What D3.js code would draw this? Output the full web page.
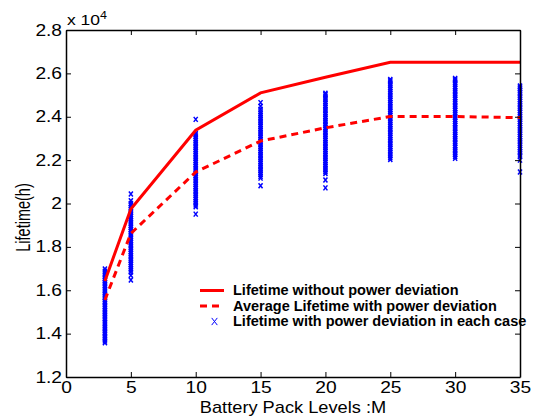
<!DOCTYPE html>
<html>
<head>
<meta charset="utf-8">
<script src="https://cdn.jsdelivr.net/npm/d3@7"></script>
<style>
  body { margin: 0; background: #fff; }
  text { font-family: "Liberation Sans", Arial, sans-serif; }
</style>
</head>
<body>
<script>
// battery pack levels M and lifetimes (x 10^4 h)
var levels = [3, 5, 10, 15, 20, 25, 30, 35]
var lifeNoDev = [1.643, 1.975, 2.338, 2.510, 2.582, 2.651, 2.651, 2.651]
var lifeAvgDev = [1.555, 1.862, 2.145, 2.288, 2.349, 2.401, 2.401, 2.396]

// lifetime of each case with power deviation, per level
var caseM3 = [1.358,1.366,1.374,1.381,1.389,1.398,1.405,1.413,1.421,1.428,1.437,1.445,1.452,1.461,1.469,1.476,1.484,1.493,1.500,1.508,1.517,1.524,1.532,1.541,1.548,1.556,1.565,1.573,1.580,1.589,1.597,1.604,1.612,1.621,1.629,1.636,1.645,1.653,1.661,1.670,1.679,1.688,1.698]
var caseM5 = [1.647,1.669,1.684,1.693,1.701,1.710,1.719,1.727,1.736,1.744,1.753,1.761,1.770,1.778,1.787,1.795,1.804,1.812,1.821,1.829,1.838,1.846,1.855,1.863,1.872,1.880,1.889,1.897,1.906,1.914,1.923,1.931,1.940,1.948,1.957,1.965,1.974,1.982,1.991,2.000,2.013,2.044]
var caseM10 = [1.951,1.985,1.993,2.002,2.010,2.019,2.027,2.036,2.044,2.053,2.061,2.070,2.078,2.087,2.095,2.104,2.112,2.121,2.129,2.138,2.146,2.155,2.163,2.172,2.180,2.189,2.197,2.206,2.214,2.223,2.231,2.240,2.248,2.257,2.265,2.274,2.282,2.291,2.299,2.308,2.316,2.323,2.388]
var caseM15 = [2.082,2.117,2.125,2.134,2.142,2.151,2.159,2.168,2.176,2.185,2.193,2.202,2.210,2.219,2.227,2.236,2.244,2.253,2.261,2.270,2.278,2.287,2.295,2.304,2.312,2.321,2.329,2.338,2.346,2.355,2.363,2.372,2.380,2.389,2.397,2.406,2.414,2.423,2.435,2.448,2.465]
var caseM20 = [2.072,2.108,2.138,2.146,2.155,2.163,2.172,2.180,2.189,2.197,2.206,2.214,2.223,2.231,2.240,2.248,2.257,2.265,2.274,2.282,2.291,2.299,2.308,2.316,2.325,2.333,2.342,2.350,2.359,2.367,2.376,2.384,2.393,2.401,2.410,2.418,2.427,2.435,2.444,2.452,2.461,2.469,2.478,2.486,2.495,2.503,2.508]
var caseM25 = [2.203,2.211,2.220,2.228,2.237,2.245,2.254,2.262,2.271,2.279,2.288,2.296,2.305,2.313,2.322,2.330,2.339,2.347,2.356,2.364,2.373,2.381,2.390,2.398,2.407,2.415,2.424,2.432,2.441,2.449,2.458,2.466,2.475,2.483,2.492,2.500,2.509,2.517,2.526,2.534,2.543,2.551,2.560,2.566,2.572]
var caseM30 = [2.208,2.216,2.225,2.233,2.242,2.250,2.259,2.267,2.276,2.284,2.293,2.301,2.310,2.318,2.327,2.335,2.344,2.352,2.361,2.369,2.378,2.386,2.395,2.403,2.412,2.420,2.429,2.437,2.446,2.454,2.463,2.471,2.480,2.488,2.497,2.505,2.514,2.522,2.531,2.539,2.548,2.556,2.565,2.571,2.577]
var caseM35 = [2.145,2.200,2.216,2.224,2.233,2.241,2.250,2.258,2.267,2.275,2.284,2.292,2.301,2.309,2.318,2.326,2.335,2.343,2.352,2.360,2.369,2.377,2.386,2.394,2.403,2.411,2.420,2.428,2.437,2.445,2.454,2.462,2.471,2.479,2.488,2.496,2.505,2.513,2.522,2.530,2.537,2.542]

var xTicks = [0, 5, 10, 15, 20, 25, 30, 35]
var yTicks = [1.2, 1.4, 1.6, 1.8, 2, 2.2, 2.4, 2.6, 2.8]
var yTickLabels = ["1.2", "1.4", "1.6", "1.8", "2", "2.2", "2.4", "2.6", "2.8"]
var legendLabels = ["Lifetime without power deviation", "Average Lifetime with power deviation", "Lifetime with power deviation in each case"]

var width = 536, height = 418
var plotL = 66, plotR = 520, plotT = 30, plotB = 377

var svg = d3.select("body").append("svg")
    .attr("width", width)
    .attr("height", height)

var x = d3.scaleLinear().domain([0, 35]).range([plotL, plotR])
var y = d3.scaleLinear().domain([1.2, 2.8]).range([plotB, plotT])

// scatter points, one column per level
var cases = [caseM3, caseM5, caseM10, caseM15, caseM20, caseM25, caseM30, caseM35]
var pts = []
cases.forEach(function (arr, i) {
    arr.forEach(function (v) { pts.push({ m: levels[i], v: v }) })
})
var xMark = "M-2,-2.5L2,2.5M-2,2.5L2,-2.5"
svg.append("g").selectAll("path")
    .data(pts)
    .enter().append("path")
    .attr("transform", function (d) { return "translate(" + x(d.m) + "," + y(d.v) + ")" })
    .attr("d", xMark)
    .attr("stroke", "#0000ff")
    .attr("stroke-width", 1.5)
    .attr("fill", "none")

// lines
var line = d3.line()
    .x(function (d, i) { return x(levels[i]) })
    .y(function (d) { return y(d) })

svg.append("path").datum(lifeNoDev)
    .attr("d", line)
    .attr("fill", "none")
    .attr("stroke", "#ff0000")
    .attr("stroke-width", 3)

svg.append("path").datum(lifeAvgDev)
    .attr("d", line)
    .attr("fill", "none")
    .attr("stroke", "#ff0000")
    .attr("stroke-width", 3)
    .attr("stroke-dasharray", "7,5")

// axes, ticks inward on all four sides
function styleAxis(g) {
    g.attr("font-family", "Liberation Sans, Arial, sans-serif").attr("font-size", 16)
    g.select(".domain").attr("stroke-width", 1.5)
    g.selectAll(".tick line").attr("stroke-width", 1)
}

var gx = svg.append("g")
    .attr("transform", "translate(0," + plotB + ")")
    .call(d3.axisBottom(x).tickValues(xTicks).tickSizeInner(-5).tickSizeOuter(0).tickPadding(5))
styleAxis(gx)
gx.selectAll("text").attr("transform", "scale(1.2,1)")

var gy = svg.append("g")
    .attr("transform", "translate(" + plotL + ",0)")
    .call(d3.axisLeft(y).tickValues(yTicks).tickFormat(function (d, i) { return yTickLabels[i] })
        .tickSizeInner(-5).tickSizeOuter(0).tickPadding(3.3))
styleAxis(gy)
gy.selectAll("text").attr("transform", "scale(1.2,1)")

var gt = svg.append("g")
    .attr("transform", "translate(0," + plotT + ")")
    .call(d3.axisTop(x).tickValues(xTicks).tickSizeInner(-5).tickSizeOuter(0).tickFormat(""))
styleAxis(gt)

var gr = svg.append("g")
    .attr("transform", "translate(" + plotR + ",0)")
    .call(d3.axisRight(y).tickValues(yTicks).tickSizeInner(-5).tickSizeOuter(0).tickFormat(""))
styleAxis(gr)

// exponent label
var ex = svg.append("text")
    .attr("transform", "translate(67,25) scale(1.25,1)")
    .attr("font-size", 14)
ex.append("tspan").text("x 10")
ex.append("tspan").attr("font-size", 10).attr("dy", -6).text("4")

// axis titles
svg.append("text")
    .attr("transform", "translate(" + ((plotL + plotR) / 2) + ",413) scale(1.14,1)")
    .attr("text-anchor", "middle")
    .attr("font-size", 16)
    .text("Battery Pack Levels :M")

svg.append("text")
    .attr("transform", "translate(29.5,217.5) scale(1.4,1) rotate(-90)")
    .attr("text-anchor", "middle")
    .attr("font-size", 14.5)
    .text("Lifetime(h)")

// legend
var lg = svg.append("g")
var rows = [295, 310.5, 326]
lg.append("line").attr("x1", 200).attr("x2", 224).attr("y1", rows[0] - 4.5).attr("y2", rows[0] - 4.5)
    .attr("stroke", "#ff0000").attr("stroke-width", 3)
lg.append("line").attr("x1", 200).attr("x2", 224).attr("y1", rows[1] - 4.5).attr("y2", rows[1] - 4.5)
    .attr("stroke", "#ff0000").attr("stroke-width", 3).attr("stroke-dasharray", "7,5")
lg.append("path").attr("transform", "translate(214.5," + (rows[2] - 4.5) + ")")
    .attr("d", "M-2.8,-3.6L2.8,3.6M-2.8,3.6L2.8,-3.6")
    .attr("stroke", "#0000ff").attr("stroke-width", 1).attr("fill", "none")
lg.selectAll("text")
    .data(legendLabels)
    .enter().append("text")
    .attr("x", 233)
    .attr("y", function (d, i) { return rows[i] })
    .attr("font-size", 14.5)
    .attr("font-weight", "bold")
    .text(function (d) { return d })
</script>
</body>
</html>
